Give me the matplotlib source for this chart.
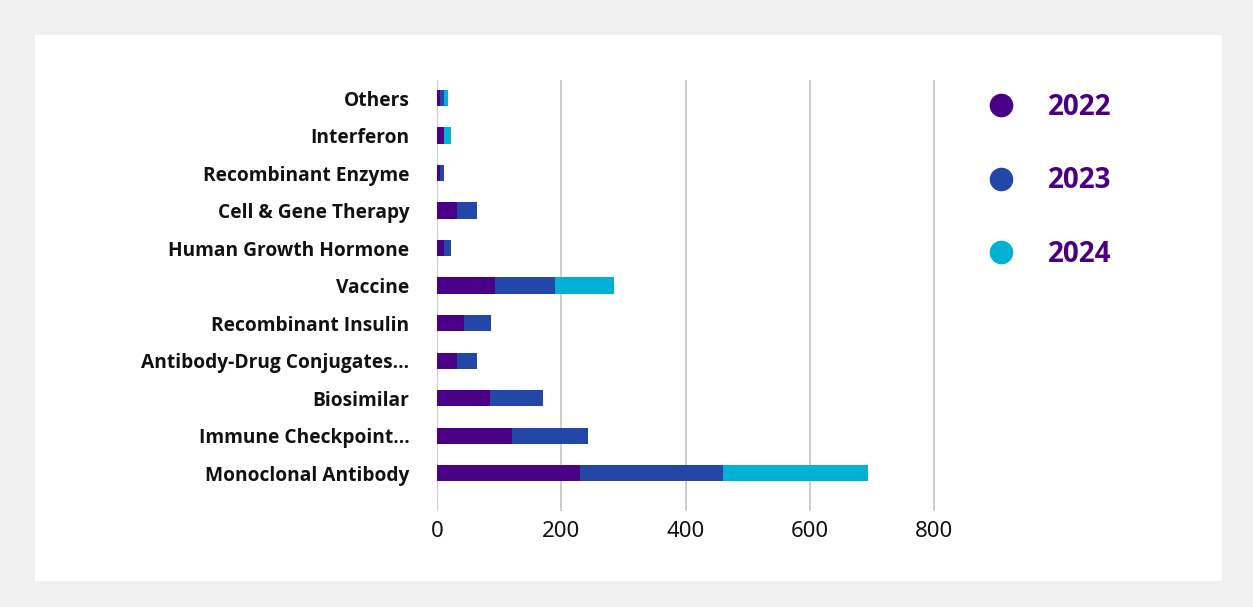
"""Stacked horizontal bar chart of biologics categories by year."""

import matplotlib
matplotlib.use("Agg")
import matplotlib.pyplot as plt
import matplotlib.patches as mpatches
from matplotlib.lines import Line2D
import numpy as np

# data (bottom to top)
categories = [
    "Monoclonal Antibody",
    "Immune Checkpoint...",
    "Biosimilar",
    "Antibody-Drug Conjugates...",
    "Recombinant Insulin",
    "Vaccine",
    "Human Growth Hormone",
    "Cell & Gene Therapy",
    "Recombinant Enzyme",
    "Interferon",
    "Others",
]
years = ["2022", "2023", "2024"]
values_2022 = [230, 121, 85, 32, 43, 94, 11, 32, 5, 11, 5]
values_2023 = [230, 122, 85, 32, 44, 95, 11, 32, 6, 0, 6]
values_2024 = [233, 0, 0, 0, 0, 95, 0, 0, 0, 11, 6]
x_ticks = [0, 200, 400, 600, 800]

COLORS = {
    "outer": "#f0f0f0",
    "card": "#ffffff",
    "grid": "#c4c4c4",
    "label": "#111111",
    "tick": "#111111",
    "legend_text": "#4b0082",
    "series": ["#4b0088", "#2347a9", "#00b1d5"],
}

plt.rcParams["font.family"] = ["Open Sans", "DejaVu Sans"]

fig = plt.figure(figsize=(12.53, 6.07), dpi=100, facecolor=COLORS["outer"])

card = mpatches.Rectangle(
    (0.0279, 0.0428), 0.9474, 0.8995,
    facecolor=COLORS["card"], edgecolor="none", transform=fig.transFigure, zorder=-10,
)
fig.patches.append(card)

ax = fig.add_axes([0.3488, 0.1582, 0.4464, 0.71])
ax.set_facecolor("none")
ax.set_zorder(1)

y = np.arange(len(categories))
left = np.zeros(len(categories))
for vals, color in zip([values_2022, values_2023, values_2024], COLORS["series"]):
    ax.barh(y, vals, left=left, height=0.43, color=color, zorder=3)
    left += np.array(vals)

ax.set_xlim(0, 900)
ax.set_ylim(-1.01, 10.48)
ax.set_xticks(x_ticks)
ax.set_yticks(y)
ax.set_yticklabels(categories, fontsize=13.8, fontweight="bold", color=COLORS["label"])
ax.tick_params(axis="y", length=0, pad=20)
ax.tick_params(axis="x", length=0, pad=7, labelsize=16, labelcolor=COLORS["tick"])
for lbl in ax.get_xticklabels():
    lbl.set_family(["Noto Sans", "DejaVu Sans"])
ax.grid(axis="x", color=COLORS["grid"], linewidth=1.2, zorder=0)
ax.grid(axis="y", visible=False)
for spine in ax.spines.values():
    spine.set_visible(False)

handles = [
    Line2D([], [], marker="o", linestyle="", markersize=16, color=c)
    for c in COLORS["series"]
]
fig.legend(
    handles, years,
    loc="upper left", bbox_to_anchor=(0.768, 0.888),
    frameon=False, labelcolor=COLORS["legend_text"],
    prop={"weight": "bold", "size": 20},
    labelspacing=1.6, handletextpad=1.2, handlelength=1.0,
)

fig.savefig("out.png", dpi=100, facecolor=COLORS["outer"])
